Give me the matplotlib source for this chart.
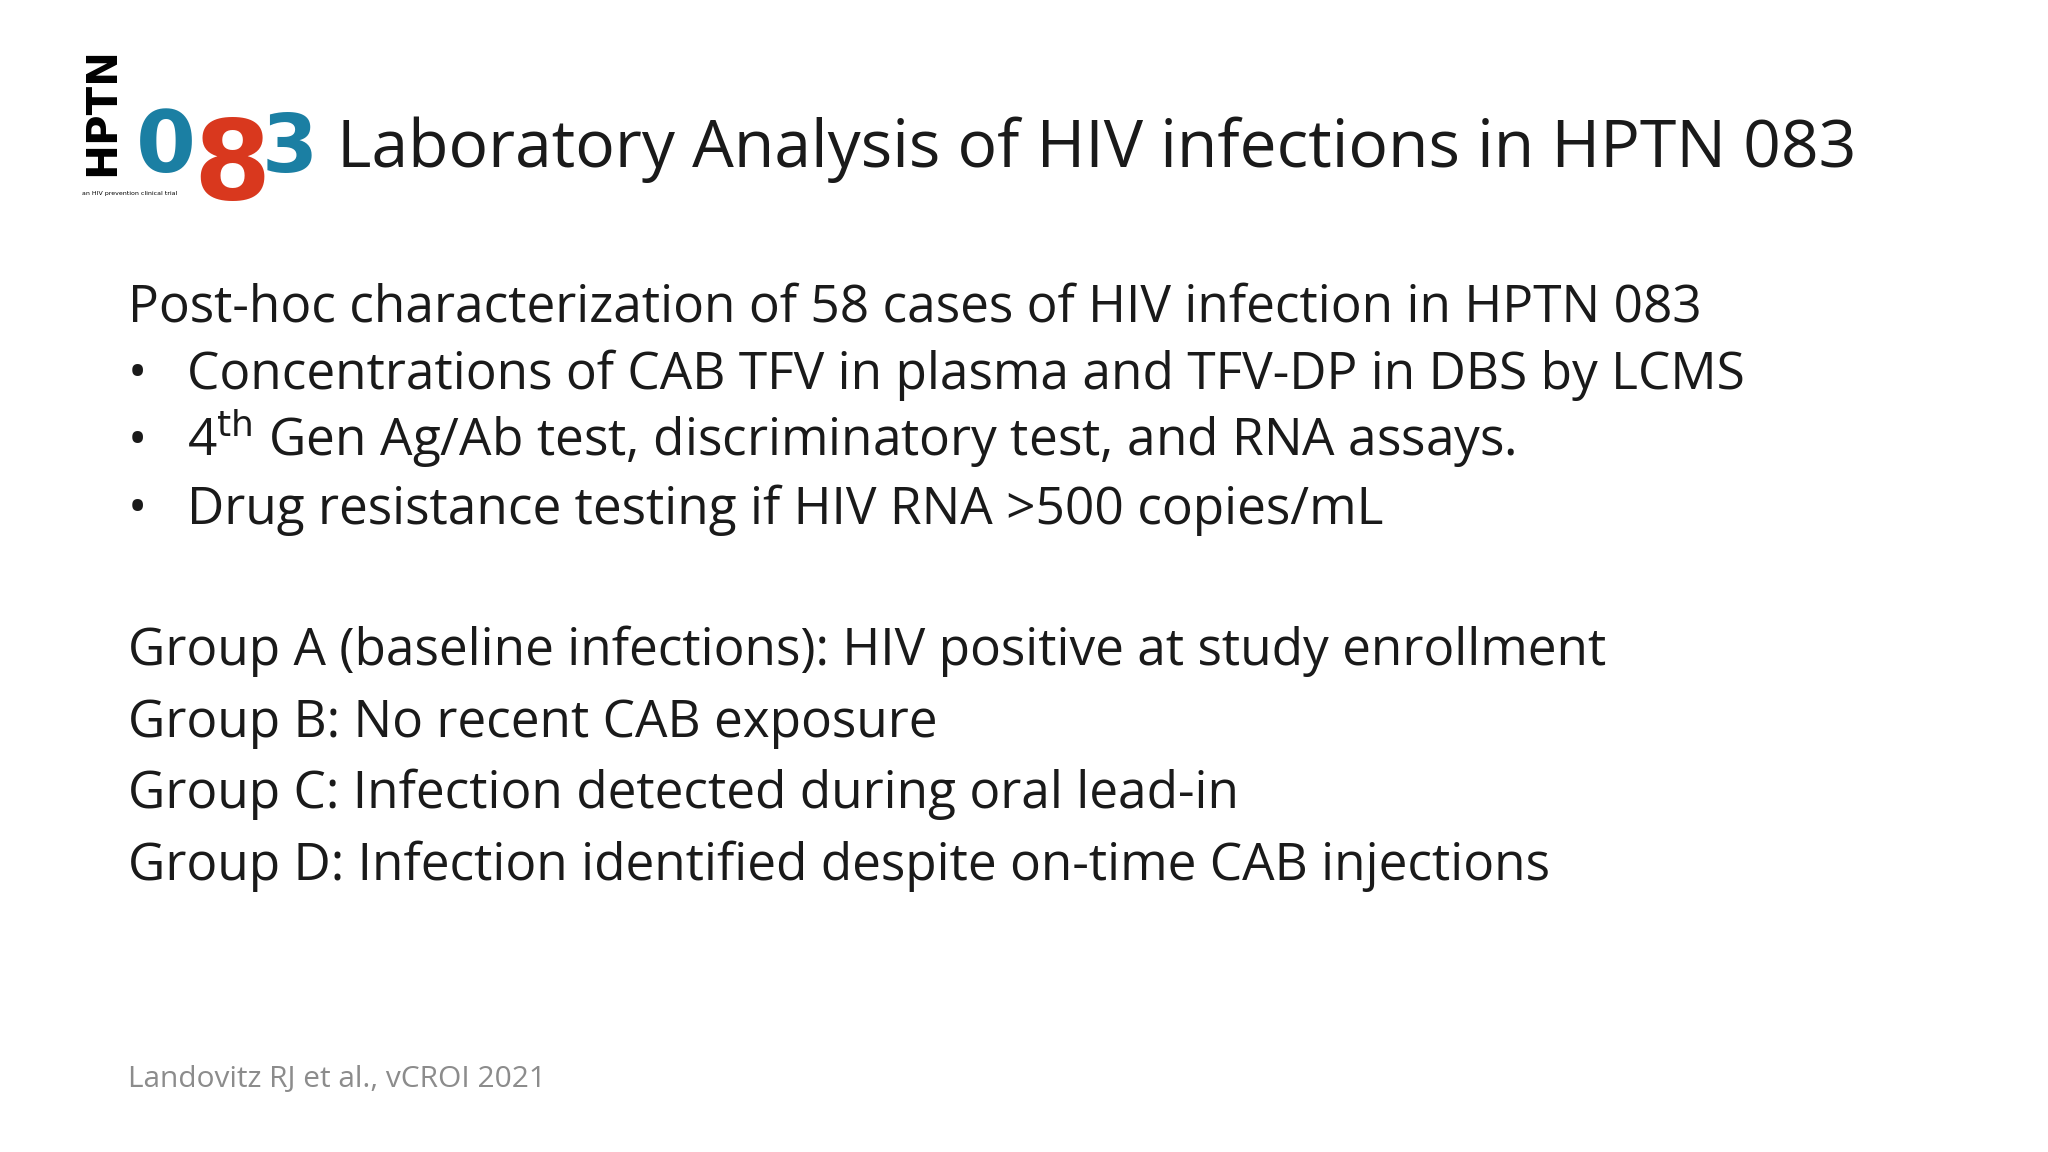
import matplotlib
matplotlib.use("Agg")
import matplotlib.pyplot as plt

plt.rcParams['font.family'] = ['Open Sans', 'DejaVu Sans']

W, H = 1568, 882  # reference layout units

title = "Laboratory Analysis of HIV infections in HPTN 083"
intro = "Post-hoc characterization of 58 cases of HIV infection in HPTN 083"
bullets = [
    "Concentrations of CAB TFV in plasma and TFV-DP in DBS by LCMS",
    r"4$^{\mathrm{th}}$ Gen Ag/Ab test, discriminatory test, and RNA assays.",
    "Drug resistance testing if HIV RNA >500 copies/mL",
]
groups = [
    "Group A (baseline infections): HIV positive at study enrollment",
    "Group B: No recent CAB exposure",
    "Group C: Infection detected during oral lead-in",
    "Group D: Infection identified despite on-time CAB injections",
]
citation = "Landovitz RJ et al., vCROI 2021"

fig = plt.figure(figsize=(20.48, 11.52), dpi=100)
fig.patch.set_facecolor('white')

def put(x, y, s, **kw):
    return fig.text(x / W, 1 - y / H, s, va='baseline', **kw)

# logo
teal = '#1b7fa3'
cond = 'DejaVu Sans Condensed'
fig.text(62 / W, 1 - 135 / H, "HPTN", fontsize=30, fontweight='bold', color='black',
         rotation=90, family=cond, ha='left', va='bottom')
put(104, 132, "0", fontsize=62, fontweight='bold', color=teal, family=cond)
put(148, 152, "8", fontsize=80, fontweight='bold', color='#d9381e', family=cond)
put(200, 132, "3", fontsize=58, fontweight='bold', color=teal, family=cond)
put(63, 149, "an HIV prevention clinical trial", fontsize=4.5, color='black', family=cond)

put(258, 128, title, fontsize=47.5, color='#1a1a1a')
fs = 37
put(98, 246, intro, fontsize=fs, color='#1a1a1a')
for i, b in enumerate(bullets):
    y = 298 + i * 51.5
    put(98, y, "\u2022", fontsize=fs, color='#1a1a1a')
    put(143, y, b, fontsize=fs, color='#1a1a1a')
for i, g in enumerate(groups):
    put(98, 509 + i * 55, g, fontsize=fs, color='#1a1a1a')
put(98, 832, citation, fontsize=21.5, color='#8c8c8c')

fig.savefig("out.png", dpi=100, facecolor='white')
